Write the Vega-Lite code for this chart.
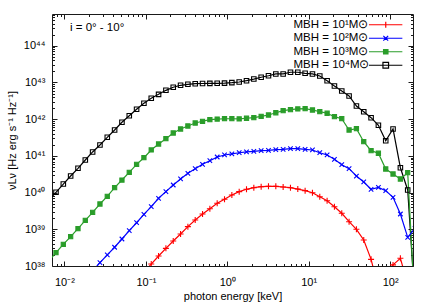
{
  "$schema": "https://vega.github.io/schema/vega-lite/v6.json",
  "width": 361,
  "height": 252,
  "autosize": {"type": "none"},
  "padding": {"left": 52, "top": 14, "right": 23, "bottom": 39},
  "config": {
    "view": {"stroke": "#1a1a1a", "strokeWidth": 1},
    "font": "Liberation Sans",
    "axis": {"domain": false, "grid": false, "tickColor": "#1a1a1a", "tickWidth": 1, "labelColor": "#000", "titleColor": "#000", "labelFont": "Liberation Sans", "titleFont": "Liberation Sans", "labelFontSize": 11, "titleFontSize": 11, "titleFontWeight": "normal", "labelFlush": false, "labelOverlap": false}
  },
  "datasets": {
    "sed": [
      {"bh": "4", "E": 0.0064, "L": 6.17e39},
      {"bh": "4", "E": 0.00787, "L": 1.02e40},
      {"bh": "4", "E": 0.00968, "L": 1.71e40},
      {"bh": "4", "E": 0.01191, "L": 2.83e40},
      {"bh": "4", "E": 0.01466, "L": 4.59e40},
      {"bh": "4", "E": 0.01803, "L": 7.73e40},
      {"bh": "4", "E": 0.02218, "L": 1.28e41},
      {"bh": "4", "E": 0.02729, "L": 1.98e41},
      {"bh": "4", "E": 0.03357, "L": 3.21e41},
      {"bh": "4", "E": 0.0413, "L": 5.08e41},
      {"bh": "4", "E": 0.05082, "L": 8.24e41},
      {"bh": "4", "E": 0.06252, "L": 1.24e42},
      {"bh": "4", "E": 0.07691, "L": 1.86e42},
      {"bh": "4", "E": 0.09462, "L": 2.71e42},
      {"bh": "4", "E": 0.1164, "L": 3.71e42},
      {"bh": "4", "E": 0.1432, "L": 4.76e42},
      {"bh": "4", "E": 0.1762, "L": 6.12e42},
      {"bh": "4", "E": 0.2168, "L": 7.4e42},
      {"bh": "4", "E": 0.2667, "L": 8.39e42},
      {"bh": "4", "E": 0.3281, "L": 8.93e42},
      {"bh": "4", "E": 0.4036, "L": 9.27e42},
      {"bh": "4", "E": 0.4966, "L": 9.4e42},
      {"bh": "4", "E": 0.6109, "L": 9.45e42},
      {"bh": "4", "E": 0.7516, "L": 9.5e42},
      {"bh": "4", "E": 0.9247, "L": 9.6e42},
      {"bh": "4", "E": 1.138, "L": 9.89e42},
      {"bh": "4", "E": 1.4, "L": 1.03e43},
      {"bh": "4", "E": 1.722, "L": 1.12e43},
      {"bh": "4", "E": 2.118, "L": 1.24e43},
      {"bh": "4", "E": 2.606, "L": 1.39e43},
      {"bh": "4", "E": 3.206, "L": 1.53e43},
      {"bh": "4", "E": 3.945, "L": 1.71e43},
      {"bh": "4", "E": 4.853, "L": 1.71e43},
      {"bh": "4", "E": 5.97, "L": 1.9e43},
      {"bh": "4", "E": 7.345, "L": 1.9e43},
      {"bh": "4", "E": 9.036, "L": 1.78e43},
      {"bh": "4", "E": 11.12, "L": 1.71e43},
      {"bh": "4", "E": 13.68, "L": 1.5e43},
      {"bh": "4", "E": 16.83, "L": 1.12e43},
      {"bh": "4", "E": 20.7, "L": 8.04e42},
      {"bh": "4", "E": 25.47, "L": 5.86e42},
      {"bh": "4", "E": 31.33, "L": 4.29e42},
      {"bh": "4", "E": 38.55, "L": 2.29e42},
      {"bh": "4", "E": 47.42, "L": 1.6e42},
      {"bh": "4", "E": 58.35, "L": 1.1e42},
      {"bh": "4", "E": 71.78, "L": 6.82e41},
      {"bh": "4", "E": 88.31, "L": 2.59e41},
      {"bh": "4", "E": 108.6, "L": 5.41e41},
      {"bh": "4", "E": 133.7, "L": 4.76e40},
      {"bh": "4", "E": 164.4, "L": 1.18e40},
      {"bh": "4", "E": 202.3, "L": 1.0e37},
      {"bh": "3", "E": 0.0064, "L": 1.35e38},
      {"bh": "3", "E": 0.00787, "L": 2.3e38},
      {"bh": "3", "E": 0.00968, "L": 3.9e38},
      {"bh": "3", "E": 0.01191, "L": 6.28e38},
      {"bh": "3", "E": 0.01466, "L": 1.04e39},
      {"bh": "3", "E": 0.01803, "L": 1.76e39},
      {"bh": "3", "E": 0.02218, "L": 2.9e39},
      {"bh": "3", "E": 0.02729, "L": 4.89e39},
      {"bh": "3", "E": 0.03357, "L": 7.92e39},
      {"bh": "3", "E": 0.0413, "L": 1.36e40},
      {"bh": "3", "E": 0.05082, "L": 2.2e40},
      {"bh": "3", "E": 0.06252, "L": 3.57e40},
      {"bh": "3", "E": 0.07691, "L": 5.9e40},
      {"bh": "3", "E": 0.09462, "L": 8.93e40},
      {"bh": "3", "E": 0.1164, "L": 1.45e41},
      {"bh": "3", "E": 0.1432, "L": 2.11e41},
      {"bh": "3", "E": 0.1762, "L": 2.94e41},
      {"bh": "3", "E": 0.2168, "L": 4.21e41},
      {"bh": "3", "E": 0.2667, "L": 5.41e41},
      {"bh": "3", "E": 0.3281, "L": 6.53e41},
      {"bh": "3", "E": 0.4036, "L": 7.87e41},
      {"bh": "3", "E": 0.4966, "L": 8.77e41},
      {"bh": "3", "E": 0.6109, "L": 9.68e41},
      {"bh": "3", "E": 0.7516, "L": 1.01e42},
      {"bh": "3", "E": 0.9247, "L": 1.03e42},
      {"bh": "3", "E": 1.138, "L": 1.03e42},
      {"bh": "3", "E": 1.4, "L": 1.02e42},
      {"bh": "3", "E": 1.722, "L": 1.06e42},
      {"bh": "3", "E": 2.118, "L": 1.1e42},
      {"bh": "3", "E": 2.606, "L": 1.2e42},
      {"bh": "3", "E": 3.206, "L": 1.3e42},
      {"bh": "3", "E": 3.945, "L": 1.5e42},
      {"bh": "3", "E": 4.853, "L": 1.71e42},
      {"bh": "3", "E": 5.97, "L": 1.82e42},
      {"bh": "3", "E": 7.345, "L": 1.9e42},
      {"bh": "3", "E": 9.036, "L": 1.93e42},
      {"bh": "3", "E": 11.12, "L": 1.78e42},
      {"bh": "3", "E": 13.68, "L": 1.6e42},
      {"bh": "3", "E": 16.83, "L": 1.45e42},
      {"bh": "3", "E": 20.7, "L": 1.17e42},
      {"bh": "3", "E": 25.47, "L": 1.03e42},
      {"bh": "3", "E": 31.33, "L": 5.08e41},
      {"bh": "3", "E": 38.55, "L": 5.51e41},
      {"bh": "3", "E": 47.42, "L": 2.44e41},
      {"bh": "3", "E": 58.35, "L": 1.39e41},
      {"bh": "3", "E": 71.78, "L": 1.18e41},
      {"bh": "3", "E": 88.31, "L": 4.4e40},
      {"bh": "3", "E": 108.6, "L": 3.21e40},
      {"bh": "3", "E": 133.7, "L": 2.35e40},
      {"bh": "3", "E": 164.4, "L": 3.48e40},
      {"bh": "3", "E": 202.3, "L": 6.3e36},
      {"bh": "2", "E": 0.02218, "L": 7.41e37},
      {"bh": "2", "E": 0.02729, "L": 1.23e38},
      {"bh": "2", "E": 0.03357, "L": 2.0e38},
      {"bh": "2", "E": 0.0413, "L": 3.24e38},
      {"bh": "2", "E": 0.05082, "L": 5.44e38},
      {"bh": "2", "E": 0.06252, "L": 9.16e38},
      {"bh": "2", "E": 0.07691, "L": 1.51e39},
      {"bh": "2", "E": 0.09462, "L": 2.56e39},
      {"bh": "2", "E": 0.1164, "L": 4.13e39},
      {"bh": "2", "E": 0.1432, "L": 7.0e39},
      {"bh": "2", "E": 0.1762, "L": 1.06e40},
      {"bh": "2", "E": 0.2168, "L": 1.61e40},
      {"bh": "2", "E": 0.2667, "L": 2.35e40},
      {"bh": "2", "E": 0.3281, "L": 3.36e40},
      {"bh": "2", "E": 0.4036, "L": 4.48e40},
      {"bh": "2", "E": 0.4966, "L": 5.9e40},
      {"bh": "2", "E": 0.6109, "L": 7.4e40},
      {"bh": "2", "E": 0.7516, "L": 9.33e40},
      {"bh": "2", "E": 0.9247, "L": 1.06e41},
      {"bh": "2", "E": 1.138, "L": 1.13e41},
      {"bh": "2", "E": 1.4, "L": 1.22e41},
      {"bh": "2", "E": 1.722, "L": 1.28e41},
      {"bh": "2", "E": 2.118, "L": 1.33e41},
      {"bh": "2", "E": 2.606, "L": 1.39e41},
      {"bh": "2", "E": 3.206, "L": 1.42e41},
      {"bh": "2", "E": 3.945, "L": 1.48e41},
      {"bh": "2", "E": 4.853, "L": 1.51e41},
      {"bh": "2", "E": 5.97, "L": 1.57e41},
      {"bh": "2", "E": 7.345, "L": 1.57e41},
      {"bh": "2", "E": 9.036, "L": 1.51e41},
      {"bh": "2", "E": 11.12, "L": 1.45e41},
      {"bh": "2", "E": 13.68, "L": 1.22e41},
      {"bh": "2", "E": 16.83, "L": 1.06e41},
      {"bh": "2", "E": 20.7, "L": 8.07e40},
      {"bh": "2", "E": 25.47, "L": 5.75e40},
      {"bh": "2", "E": 31.33, "L": 4.48e40},
      {"bh": "2", "E": 38.55, "L": 2.83e40},
      {"bh": "2", "E": 47.42, "L": 1.95e40},
      {"bh": "2", "E": 58.35, "L": 1.23e40},
      {"bh": "2", "E": 71.78, "L": 1.39e40},
      {"bh": "2", "E": 88.31, "L": 1.13e40},
      {"bh": "2", "E": 108.6, "L": 7.45e39},
      {"bh": "2", "E": 133.7, "L": 2.61e39},
      {"bh": "2", "E": 164.4, "L": 6.05e38},
      {"bh": "2", "E": 202.3, "L": 1.07e39},
      {"bh": "1", "E": 0.09462, "L": 6.76e37},
      {"bh": "1", "E": 0.1164, "L": 1.13e38},
      {"bh": "1", "E": 0.1432, "L": 1.87e38},
      {"bh": "1", "E": 0.1762, "L": 3.03e38},
      {"bh": "1", "E": 0.2168, "L": 4.8e38},
      {"bh": "1", "E": 0.2667, "L": 7.45e38},
      {"bh": "1", "E": 0.3281, "L": 1.18e39},
      {"bh": "1", "E": 0.4036, "L": 1.79e39},
      {"bh": "1", "E": 0.4966, "L": 2.61e39},
      {"bh": "1", "E": 0.6109, "L": 3.64e39},
      {"bh": "1", "E": 0.7516, "L": 5.11e39},
      {"bh": "1", "E": 0.9247, "L": 6.56e39},
      {"bh": "1", "E": 1.138, "L": 8.61e39},
      {"bh": "1", "E": 1.4, "L": 1.06e40},
      {"bh": "1", "E": 1.722, "L": 1.23e40},
      {"bh": "1", "E": 2.118, "L": 1.36e40},
      {"bh": "1", "E": 2.606, "L": 1.45e40},
      {"bh": "1", "E": 3.206, "L": 1.48e40},
      {"bh": "1", "E": 3.945, "L": 1.48e40},
      {"bh": "1", "E": 4.853, "L": 1.42e40},
      {"bh": "1", "E": 5.97, "L": 1.36e40},
      {"bh": "1", "E": 7.345, "L": 1.25e40},
      {"bh": "1", "E": 9.036, "L": 1.13e40},
      {"bh": "1", "E": 11.12, "L": 9.93e39},
      {"bh": "1", "E": 13.68, "L": 7.73e39},
      {"bh": "1", "E": 16.83, "L": 6.01e39},
      {"bh": "1", "E": 20.7, "L": 4.13e39},
      {"bh": "1", "E": 25.47, "L": 2.73e39},
      {"bh": "1", "E": 31.33, "L": 1.61e39},
      {"bh": "1", "E": 38.55, "L": 1.0e39},
      {"bh": "1", "E": 47.42, "L": 5.11e38},
      {"bh": "1", "E": 58.35, "L": 1.52e38},
      {"bh": "1", "E": 71.78, "L": 2.5e37},
      {"bh": "1", "E": 88.31, "L": 5.6e37},
      {"bh": "1", "E": 108.6, "L": 1.07e38},
      {"bh": "1", "E": 133.7, "L": 1.62e38},
      {"bh": "1", "E": 164.4, "L": 3.2e37}
    ]
  },
  "layer": [
    {
      "data": {"name": "sed"},
      "mark": {"type": "line", "strokeWidth": 1.2, "clip": true},
      "encoding": {
        "x": {"field": "E", "type": "quantitative", "scale": {"type": "log", "domain": [0.00703, 191], "nice": false},
          "axis": {"orient": "bottom", "values": [0.01, 0.1, 1, 10, 100], "tickSize": -5, "labelPadding": 15, "labelBaseline": "top",
            "labelExpr": "['10⁻²','10⁻¹','10⁰','10¹','10²'][round(log(datum.value)/LN10)+2]",
            "title": "photon energy [keV]", "titleX": 180.5, "titleY": 30, "titleBaseline": "middle", "titleAlign": "center"}},
        "y": {"field": "L", "type": "quantitative", "scale": {"type": "log", "domain": [1e38, 7.35e44], "nice": false},
          "axis": {"orient": "left", "values": [1e38, 1e39, 1e40, 1e41, 1e42, 1e43, 1e44], "tickSize": -5, "labelPadding": 12,
            "labelExpr": "['10³⁸','10³⁹','10⁴⁰','10⁴¹','10⁴²','10⁴³','10⁴⁴'][round(log(datum.value)/LN10)-38]",
            "title": "νLν [Hz erg s⁻¹ Hz⁻¹]", "titleX": -40, "titleY": 126, "titleAngle": -90, "titleBaseline": "middle", "titleAlign": "center"}},
        "color": {"field": "bh", "type": "nominal", "scale": {"domain": ["1", "2", "3", "4"], "range": ["#ff0000", "#0000ff", "#2a9d2a", "#000000"]}, "legend": null}
      }
    },
    {
      "data": {"name": "sed"},
      "mark": {"type": "point", "clip": true, "size": 36, "strokeWidth": 1.1, "opacity": 1},
      "encoding": {
        "x": {"field": "E", "type": "quantitative", "scale": {"type": "log", "domain": [0.00703, 191], "nice": false},
          "axis": {"orient": "bottom", "values": [0.008, 0.009, 0.02, 0.03, 0.04, 0.05, 0.06, 0.07, 0.08, 0.09, 0.2, 0.3, 0.4, 0.5, 0.6, 0.7, 0.8, 0.9, 2, 3, 4, 5, 6, 7, 8, 9, 20, 30, 40, 50, 60, 70, 80, 90], "tickSize": -2.5, "labels": false, "title": null}},
        "y": {"field": "L", "type": "quantitative", "scale": {"type": "log", "domain": [1e38, 7.35e44], "nice": false},
          "axis": {"orient": "left", "values": [2e38, 3e38, 4e38, 5e38, 6e38, 7e38, 8e38, 9e38, 2e39, 3e39, 4e39, 5e39, 6e39, 7e39, 8e39, 9e39, 2e40, 3e40, 4e40, 5e40, 6e40, 7e40, 8e40, 9e40, 2e41, 3e41, 4e41, 5e41, 6e41, 7e41, 8e41, 9e41, 2e42, 3e42, 4e42, 5e42, 6e42, 7e42, 8e42, 9e42, 2e43, 3e43, 4e43, 5e43, 6e43, 7e43, 8e43, 9e43, 2e44, 3e44, 4e44, 5e44, 6e44, 7e44], "tickSize": -2.5, "labels": false, "title": null}},
        "shape": {"field": "bh", "type": "nominal", "scale": {"domain": ["1", "2", "3", "4"], "range": ["M-1,0H1M0,-1V1", "M-0.75,-0.75L0.75,0.75M-0.75,0.75L0.75,-0.75", "M-0.7,-0.7H0.7V0.7H-0.7Z", "M-0.75,-0.75H0.75V0.75H-0.75Z"]}, "legend": null},
        "stroke": {"field": "bh", "type": "nominal", "scale": {"domain": ["1", "2", "3", "4"], "range": ["#ff0000", "#0000ff", "#2a9d2a", "#000000"]}, "legend": null},
        "fill": {"field": "bh", "type": "nominal", "scale": {"domain": ["1", "2", "3", "4"], "range": ["transparent", "transparent", "#2a9d2a", "transparent"]}, "legend": null}
      }
    },
    {
      "data": {"name": "sed"},
      "mark": {"type": "point", "filled": false, "opacity": 0, "clip": true},
      "encoding": {
        "x": {"field": "E", "type": "quantitative", "scale": {"type": "log", "domain": [0.00703, 191], "nice": false},
          "axis": {"orient": "top", "values": [0.01, 0.1, 1, 10, 100], "tickSize": -5, "labels": false, "title": null}},
        "y": {"field": "L", "type": "quantitative", "scale": {"type": "log", "domain": [1e38, 7.35e44], "nice": false},
          "axis": {"orient": "right", "values": [1e38, 1e39, 1e40, 1e41, 1e42, 1e43, 1e44], "tickSize": -5, "labels": false, "title": null}},
        "shape": {"field": "bh", "type": "nominal", "scale": {"domain": ["1", "2", "3", "4"], "range": ["M41.6,0H58.3M48.5,0H51.5M50,-1.5V1.5", "M41.6,0H58.3M48.8,-1.2L51.2,1.2M48.8,1.2L51.2,-1.2", "M41.6,0H58.3M48.9,-1.1H51.1V1.1H48.9ZM48.9,-0.4H51.1M48.9,0.4H51.1", "M41.6,0H58.3M48.6,-1.4H51.4V1.4H48.6Z"]},
          "legend": {"orient": "none", "legendX": 228, "legendY": 5, "title": null, "padding": 0, "labelFont": "Liberation Sans", "labelFontSize": 11.5, "labelColor": "#000", "symbolSize": 16, "symbolStrokeWidth": 1.2, "symbolOpacity": 1, "labelOffset": 2, "rowPadding": 0.5, "labelLimit": 0,
            "labelExpr": "'MBH = 10' + ['¹','²','³','⁴'][toNumber(datum.value)-1] + 'M⊙'"}},
        "stroke": {"field": "bh", "type": "nominal", "scale": {"domain": ["1", "2", "3", "4"], "range": ["#ff0000", "#0000ff", "#2a9d2a", "#000000"]},
          "legend": {"orient": "none", "legendX": 228, "legendY": 5, "title": null, "padding": 0, "labelFont": "Liberation Sans", "labelFontSize": 11.5, "labelColor": "#000", "symbolSize": 16, "symbolStrokeWidth": 1.2, "symbolOpacity": 1, "labelOffset": 2, "rowPadding": 0.5, "labelLimit": 0,
            "labelExpr": "'MBH = 10' + ['¹','²','³','⁴'][toNumber(datum.value)-1] + 'M⊙'"}}
      }
    },
    {
      "data": {"values": [{"label": "i =  0° - 10°"}]},
      "mark": {"type": "text", "align": "left", "baseline": "alphabetic", "fontSize": 11.5, "font": "Liberation Sans", "color": "#000"},
      "encoding": {
        "x": {"datum": 0.01169, "type": "quantitative", "scale": {"type": "log", "domain": [0.00703, 191], "nice": false},
          "axis": {"orient": "top", "values": [0.008, 0.009, 0.02, 0.03, 0.04, 0.05, 0.06, 0.07, 0.08, 0.09, 0.2, 0.3, 0.4, 0.5, 0.6, 0.7, 0.8, 0.9, 2, 3, 4, 5, 6, 7, 8, 9, 20, 30, 40, 50, 60, 70, 80, 90], "tickSize": -2.5, "labels": false, "title": null}},
        "y": {"datum": 2.58e44, "type": "quantitative", "scale": {"type": "log", "domain": [1e38, 7.35e44], "nice": false},
          "axis": {"orient": "right", "values": [2e38, 3e38, 4e38, 5e38, 6e38, 7e38, 8e38, 9e38, 2e39, 3e39, 4e39, 5e39, 6e39, 7e39, 8e39, 9e39, 2e40, 3e40, 4e40, 5e40, 6e40, 7e40, 8e40, 9e40, 2e41, 3e41, 4e41, 5e41, 6e41, 7e41, 8e41, 9e41, 2e42, 3e42, 4e42, 5e42, 6e42, 7e42, 8e42, 9e42, 2e43, 3e43, 4e43, 5e43, 6e43, 7e43, 8e43, 9e43, 2e44, 3e44, 4e44, 5e44, 6e44, 7e44], "tickSize": -2.5, "labels": false, "title": null}},
        "text": {"field": "label", "type": "nominal"}
      }
    }
  ],
  "resolve": {
    "scale": {"shape": "independent", "stroke": "independent"},
    "axis": {"x": "independent", "y": "independent"}
  }
}
